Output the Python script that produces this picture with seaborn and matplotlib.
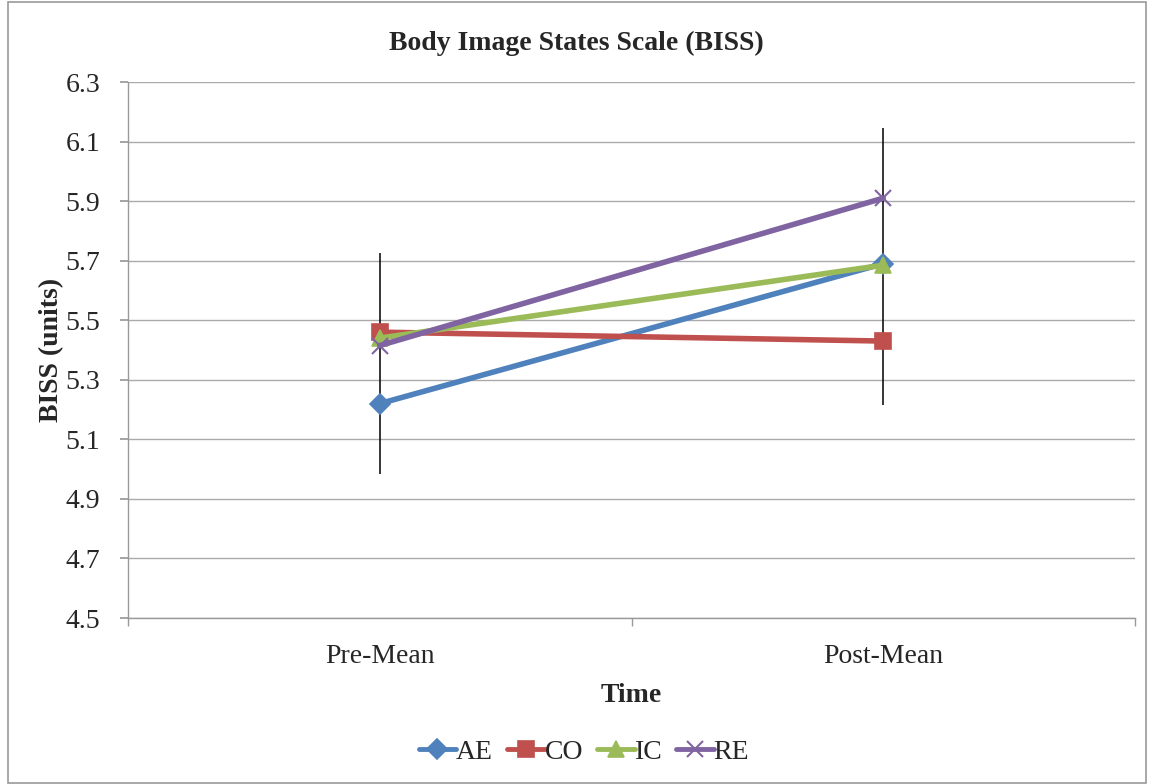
import matplotlib
matplotlib.use("Agg")
import matplotlib.pyplot as plt
import seaborn as sns
import pandas as pd
from matplotlib.patches import Rectangle

times = ["Pre-Mean", "Post-Mean"]
groups = ["AE", "CO", "IC", "RE"]
ae = [5.22, 5.69]
co = [5.46, 5.43]
ic = [5.44, 5.685]
re_ = [5.415, 5.91]
err_low = [4.985, 5.215]
err_high = [5.725, 6.145]
yticks = [4.5, 4.7, 4.9, 5.1, 5.3, 5.5, 5.7, 5.9, 6.1, 6.3]

rows = []
for g, vals in zip(groups, [ae, co, ic, re_]):
    for t, v in zip(times, vals):
        rows.append({"Time": t, "BISS": v, "Group": g})
df = pd.DataFrame(rows)

sns.set_theme(style="white")
plt.rcParams['font.family'] = ['Liberation Serif', 'DejaVu Serif']

fig = plt.figure(figsize=(11.52, 7.84), dpi=100)
ax = fig.add_axes([128/1152, 1-618/784, (1135-128)/1152, (618-82)/784])

palette = {"AE": "#4F81BD", "CO": "#C0504D", "IC": "#9BBB59", "RE": "#8064A2"}
markers = {"AE": "D", "CO": "s", "IC": "^", "RE": "x"}
msizes = {"AE": 10, "CO": 12, "IC": 12, "RE": 12}

# error bars
ax.vlines(range(len(times)), err_low, err_high, color="black", lw=1.1, zorder=1)

for g in groups:
    sub = df[df["Group"] == g]
    c = palette[g]
    sns.lineplot(data=sub, x="Time", y="BISS", color=c, marker=markers[g],
                 markersize=msizes[g], markerfacecolor=c, markeredgecolor=c,
                 markeredgewidth=1.2 if g != "RE" else 1.5,
                 lw=4, ax=ax, sort=False, label=g, zorder=3)

fs = 20
ax.set_xlim(-0.5, 1.5)
ax.set_ylim(4.5, 6.3)
ax.set_yticks(yticks)
ax.set_yticklabels([f"{v:.1f}" for v in yticks], fontsize=fs)
ax.set_xticks([0, 1])
ax.set_xticklabels(times, fontsize=fs)
ax.set_xticks([-0.5, 0.5, 1.5], minor=True)
ax.tick_params(axis="x", which="major", length=0, pad=19)
ax.tick_params(axis="x", which="minor", length=6, color="#999999", direction="out", bottom=True)
ax.tick_params(axis="y", length=6, color="#999999", direction="out", left=True, pad=14)
ax.yaxis.grid(True, color="#AAAAAA", lw=1.0)
ax.set_axisbelow(True)
for s in ["top", "right"]:
    ax.spines[s].set_visible(False)
for s in ["left", "bottom"]:
    ax.spines[s].set_color("#999999")
    ax.spines[s].set_linewidth(1.0)

ax.set_xlabel("Time", fontsize=fs, fontweight="bold", labelpad=10)
ax.set_ylabel("BISS (units)", fontsize=fs, fontweight="bold", labelpad=1)
fig.text(0.5, 1-43/784, "Body Image States Scale (BISS)", ha="center", va="center",
         fontsize=fs, fontweight="bold")

handles, labels = ax.get_legend_handles_labels()
leg = ax.legend(handles, labels, loc="center", bbox_to_anchor=(584/1152, 1-752/784),
                bbox_transform=fig.transFigure,
                ncol=4, frameon=False, fontsize=fs, handlelength=1.35, handletextpad=0.0,
                columnspacing=0.5)
for h in leg.legend_handles:
    h.set_linewidth(3.5)

fig.patches.append(Rectangle((8/1152, 1/784), (1146-8)/1152, (782-1)/784,
                             transform=fig.transFigure, fill=False,
                             edgecolor="#999999", lw=1.2))

fig.savefig("out.png", dpi=100)
